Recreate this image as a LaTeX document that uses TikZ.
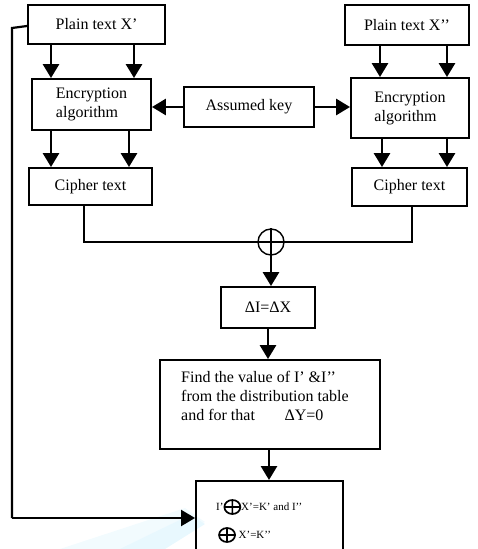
\documentclass[tikz,border=0pt]{standalone}
\usepackage{fontspec}
\setmainfont{Liberation Serif}
\usetikzlibrary{arrows.meta}
\newcommand{\myxor}{\tikz[baseline=-3.5pt,x=1pt,y=1pt]\draw[line width=1.7pt] (0,0) ellipse (8 and 7) (-8,0) -- (8,0) (0,-7) -- (0,7);}
\begin{document}
\begin{tikzpicture}[x=1pt,y=-1pt,
  box/.style={draw,line width=1.9pt,rectangle,inner sep=0pt,font=\fontsize{16}{19}\selectfont},
  arr/.style={line width=2.8pt,-{Triangle[length=14pt,width=16pt]}},
  thinline/.style={line width=1.4pt},
  small/.style={font=\fontsize{11}{13}\selectfont,inner sep=0pt,anchor=west},
  bigtxt/.style={font=\fontsize{16}{19}\selectfont,inner sep=0pt}]
\useasboundingbox (0,0) rectangle (478,549);
% faint watermark
\fill[cyan!5] (60,549) -- (185,508) -- (205,522) -- (140,549) -- cycle;
\fill[cyan!9] (120,549) -- (190,515) -- (205,524) -- (165,549) -- cycle;
% nodes
\node[box,minimum width=137,minimum height=39] (px1) at (96.5,24.5) {Plain text X’};
\node[box,minimum width=124,minimum height=40] (px2) at (407,25) {Plain text X’’};
\node[box,minimum width=119,minimum height=51,align=left] (enc1) at (91.5,104.5) {Encryption\\algorithm};
\node[box,minimum width=118,minimum height=60,align=left] (enc2) at (410,108) {Encryption\\algorithm};
\node[box,minimum width=130,minimum height=40] (key) at (249,107) {Assumed key};
\node[box,minimum width=123,minimum height=37] (c1) at (90.5,186.5) {Cipher text};
\node[box,minimum width=115,minimum height=38] (c2) at (409.5,187) {Cipher text};
\node[draw,circle,line width=1.4pt,minimum size=26,inner sep=0pt] (xor) at (271,242) {};
\draw[thinline] (xor.north) -- (xor.south) (xor.west) -- (xor.east);
\node[box,minimum width=94,minimum height=41] (dI) at (268,307.5) {ΔI=ΔX};
\node[box,minimum width=220,minimum height=89] (find) at (270,404.5) {};
\node[bigtxt,align=left,anchor=north west] (findtxt) at (181,371) {Find the value of I’ \&I’’\\from the distribution table\\and for that \hspace{1.6em}ΔY=0};
\node[box,minimum width=147,minimum height=75,anchor=north] (res) at (269.5,480) {};
\node[small] (r1) at (216,507) {I’\myxor X’=K’ and I’’};
\node[small] (r2) at (218,535) {\myxor\ X’=K’’};
% arrows plain -> enc
\draw[arr] (px1.south -| 51,0) -- (enc1.north -| 51,0);
\draw[arr] (px1.south -| 134,0) -- (enc1.north -| 134,0);
\draw[arr] (px2.south -| 380,0) -- (enc2.north -| 380,0);
\draw[arr] (px2.south -| 447,0) -- (enc2.north -| 447,0);
% key arrows
\draw[arr] (key.west) -- (key.west -| enc1.east);
\draw[arr] (key.east) -- (key.east -| enc2.west);
% enc -> cipher
\draw[arr] (enc1.south -| 51,0) -- (c1.north -| 51,0);
\draw[arr] (enc1.south -| 129,0) -- (c1.north -| 129,0);
\draw[arr] (enc2.south -| 382,0) -- (c2.north -| 382,0);
\draw[arr] (enc2.south -| 447,0) -- (c2.north -| 447,0);
% cipher -> xor
\draw[thinline] (c1.south -| 84,0) |- (xor.west);
\draw[thinline] (c2.south -| 412,0) |- (xor.east);
% downward chain
\draw[arr] (xor.south) -- (dI.north -| xor.south);
\draw[arr] (dI.south) -- (find.north -| dI.south);
\draw[arr] (find.south -| 269,0) -- (res.north -| 269,0);
% feedback
\coordinate (fb1) at (12,28);
\coordinate (fb2) at (12,518);
\draw[line width=2.2pt] (px1.west |- 0,26) -- (fb1) -- (fb2);
\draw[arr,line width=2.2pt] (fb2) -- (fb2 -| res.west);
\end{tikzpicture}
\end{document}
